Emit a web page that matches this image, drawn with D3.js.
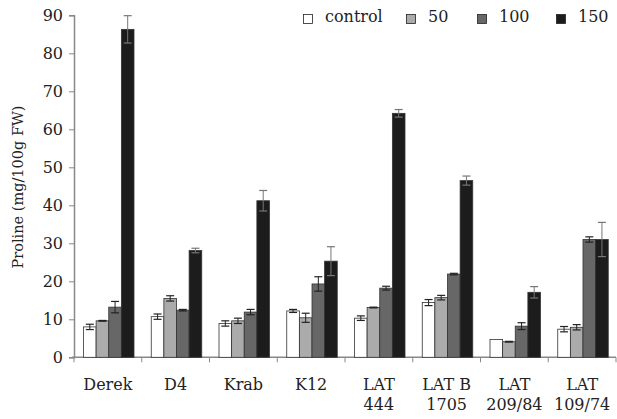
<!doctype html>
<html lang="en">
<head>
  <meta charset="utf-8">
  <title>Proline</title>
  <style>
    * { margin: 0; padding: 0; box-sizing: border-box; }
    body { background: #fff; }
    svg text { font-family: 'DejaVu Serif', 'Liberation Serif', 'Times New Roman', Times, serif !important; fill: #222; }
  </style>
</head>
<body>
  <div id="container"></div>
  <script src="https://cdn.jsdelivr.net/npm/d3@7"></script>
  <script>
    const categories = ['Derek', 'D4', 'Krab', 'K12', 'LAT|444', 'LAT B|1705', 'LAT|209/84', 'LAT|109/74'];
    const seriesNames = ['control', '50', '100', '150'];

    const control = [8.0, 10.7, 8.9, 12.2, 10.3, 14.4, 4.7, 7.4];
    const s50 = [9.6, 15.5, 9.6, 10.4, 13.1, 15.7, 4.1, 7.9];
    const s100 = [13.2, 12.4, 11.9, 19.3, 18.2, 21.9, 8.2, 31.0];
    const s150 = [86.3, 28.1, 41.2, 25.3, 64.2, 46.5, 17.1, 31.0];

    const errControl = [0.7, 0.7, 0.7, 0.4, 0.6, 0.8, 0, 0.7];
    const err50 = [0.1, 0.7, 0.7, 1.2, 0.1, 0.6, 0.1, 0.7];
    const err100 = [1.5, 0.2, 0.7, 1.9, 0.5, 0.2, 0.9, 0.7];
    const err150 = [3.6, 0.6, 2.7, 3.8, 1.0, 1.2, 1.5, 4.5];

    const yTicks = [0, 10, 20, 30, 40, 50, 60, 70, 80, 90];
    const colors = ['#ffffff', '#ababab', '#676767', '#1c1c1c'];

    const values = [control, s50, s100, s150];
    const errors = [errControl, err50, err100, err150];

    const FONT = "'DejaVu Serif', 'Liberation Serif', serif";
    const W = 617, H = 419;
    const svg = d3.select('#container').append('svg')
      .attr('width', W)
      .attr('height', H)
      .attr('font-family', FONT);

    const x0 = d3.scaleBand().domain(categories).range([74, 616]).padding(0);
    const x1 = d3.scaleBand().domain(seriesNames).range([9.5, 60]).padding(0);
    const y = d3.scaleLinear().domain([0, 90]).range([357.3, 15.3]);

    // y axis
    const yAxis = svg.append('g')
      .attr('transform', 'translate(74,0)')
      .call(d3.axisLeft(y).tickValues(yTicks).tickSize(5).tickPadding(6))
      .attr('font-family', FONT)
      .attr('font-size', 16);
    yAxis.select('.domain').attr('stroke', '#888').attr('stroke-width', 1.5);
    yAxis.selectAll('.tick line').attr('stroke', '#888');
    yAxis.selectAll('.tick text').attr('fill', '#222');

    // x axis
    const xAxis = svg.append('g')
      .attr('transform', 'translate(0,357.3)');
    xAxis.append('line')
      .attr('x1', 72).attr('x2', 616)
      .attr('stroke', '#888').attr('stroke-width', 1.5);
    xAxis.selectAll('.xtick')
      .data(categories.concat(['end']))
      .join('line')
      .attr('x1', (d, i) => i < categories.length ? x0(d) : x0.range()[1])
      .attr('x2', (d, i) => i < categories.length ? x0(d) : x0.range()[1])
      .attr('y1', 0).attr('y2', 5)
      .attr('stroke', '#888');

    const labels = svg.append('g').selectAll('text')
      .data(categories)
      .join('text')
      .attr('x', d => x0(d) + x0.bandwidth() / 2)
      .attr('y', 390)
      .attr('text-anchor', 'middle')
      .attr('font-size', 16);
    labels.each(function (d) {
      const parts = d.split('|');
      const t = d3.select(this);
      parts.forEach((p, i) => {
        t.append('tspan')
          .attr('x', t.attr('x'))
          .attr('dy', i === 0 ? 0 : 20)
          .text(p);
      });
    });

    // bars
    const groups = svg.append('g').selectAll('g')
      .data(categories)
      .join('g')
      .attr('transform', d => `translate(${x0(d)},0)`);

    groups.each(function (cat, ci) {
      const g = d3.select(this);
      seriesNames.forEach((s, si) => {
        const v = values[si][ci];
        const e = errors[si][ci];
        const bx = x1(s);
        const bw = x1.bandwidth();
        g.append('rect')
          .attr('x', bx)
          .attr('y', y(v))
          .attr('width', bw)
          .attr('height', y(0) - y(v))
          .attr('fill', colors[si])
          .attr('stroke', '#333')
          .attr('stroke-width', 0.8);
        if (e > 0) {
          const cx = bx + bw / 2;
          const ec = si === 3 ? '#777' : '#222';
          g.append('line')
            .attr('x1', cx).attr('x2', cx)
            .attr('y1', y(v + e)).attr('y2', y(v - e))
            .attr('stroke', ec).attr('stroke-width', 1);
          [v + e, v - e].forEach(ev => {
            g.append('line')
              .attr('x1', cx - 4).attr('x2', cx + 4)
              .attr('y1', y(ev)).attr('y2', y(ev))
              .attr('stroke', ec).attr('stroke-width', 1.2);
          });
        }
      });
    });

    // y label
    svg.append('text')
      .attr('transform', 'translate(23,187) rotate(-90)')
      .attr('text-anchor', 'middle')
      .attr('font-size', 14.5)
      .text('Proline (mg/100g FW)');

    // legend
    const legendX = [303, 406, 477, 556];
    const legend = svg.append('g').selectAll('g')
      .data(seriesNames)
      .join('g')
      .attr('transform', (d, i) => `translate(${legendX[i]},0)`);
    legend.append('rect')
      .attr('x', 0.5).attr('y', 14.5)
      .attr('width', 9).attr('height', 9)
      .attr('fill', (d, i) => colors[i])
      .attr('stroke', '#222').attr('stroke-width', 0.8);
    legend.append('text')
      .attr('x', 22)
      .attr('y', 22)
      .attr('font-size', 16)
      .text(d => d);
  </script>
</body>
</html>
